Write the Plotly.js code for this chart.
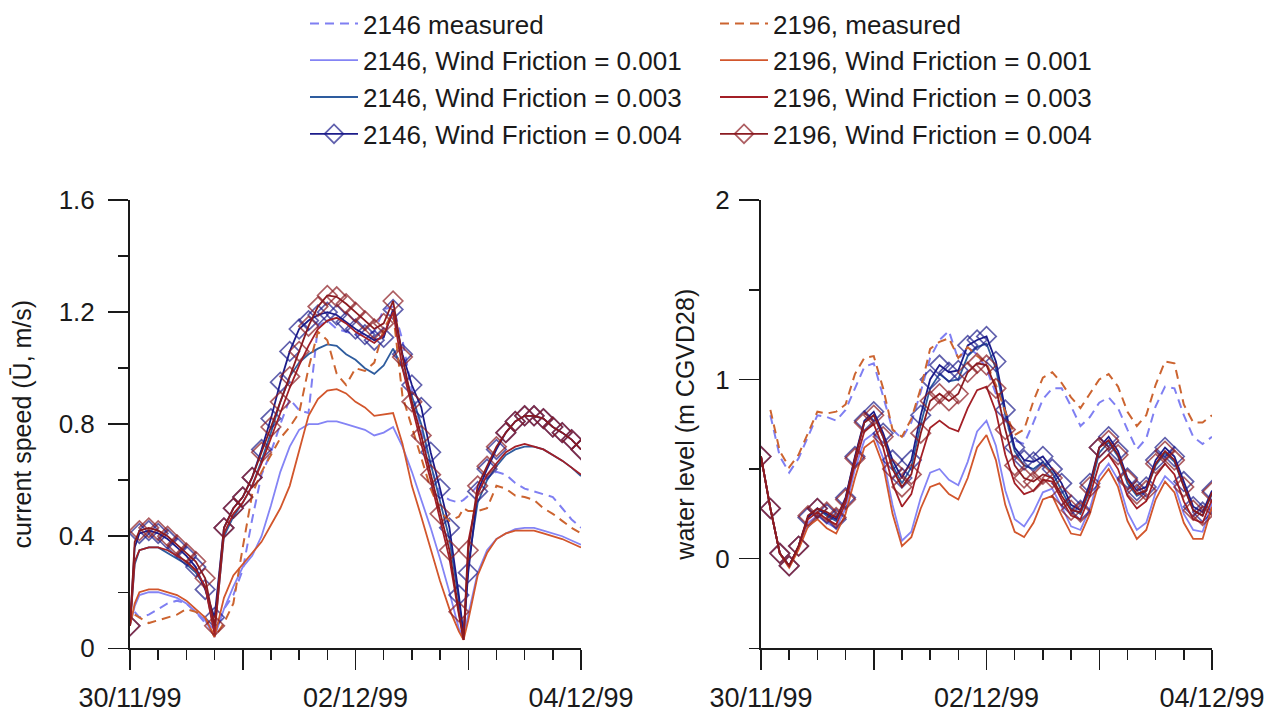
<!DOCTYPE html>
<html>
<head>
<meta charset="utf-8">
<script src="https://cdn.plot.ly/plotly-3.0.1.min.js"></script>
<style>
  html, body { margin: 0; padding: 0; background: #ffffff; }
  #chart { width: 1270px; height: 713px; }
</style>
</head>
<body>
<div id="chart"></div>
<script>
// Time axis in hours from 30/11/99 00:00.
// Left panel samples every 2 h (plus 1 h and 71 h to catch the sharp slack-water dips).
const tSpeed = [0, 1, 2, 4, 6, 8, 10, 12, 14, 16, 18, 20, 22, 24, 26, 28, 30, 32, 34, 36, 38,
  40, 42, 44, 46, 48, 50, 52, 54, 56, 58, 60, 62, 64, 66, 68, 70, 71, 72, 74, 76, 78, 80,
  82, 84, 86, 88, 90, 92, 94, 96];

// Current speed (m/s)
const speed2146Meas = [null, 0.13, 0.11, 0.12, 0.14, 0.16, 0.17, 0.16, 0.13, 0.09, 0.07, 0.14, 0.19,
  0.28, 0.46, 0.62, 0.70, 0.80, 0.89, 0.85, 0.84, 1.15, 1.17, 1.14, 1.13, 1.12, 1.12, 1.13, 1.21,
  1.22, 1.10, 0.92, 0.78, 0.65, 0.55, 0.53, 0.52, 0.53, 0.545, 0.58, 0.61, 0.63, 0.62, 0.59, 0.57,
  0.56, 0.55, 0.54, 0.50, 0.46, 0.43];
const speed2196Meas = [null, 0.12, 0.11, 0.09, 0.10, 0.11, 0.12, 0.14, 0.13, 0.11, 0.04, 0.09, 0.16,
  0.36, 0.55, 0.63, 0.69, 0.75, 0.79, 0.84, 1.00, 1.13, 1.10, 0.98, 0.94, 1.00, 0.99, 1.02, 1.14,
  1.20, 0.90, 0.79, 0.68, 0.57, 0.49, 0.455, 0.47, 0.50, 0.49, 0.49, 0.50, 0.58, 0.57, 0.545, 0.54,
  0.53, 0.50, 0.48, 0.455, 0.43, 0.41];
const speed2146Wf001 = [0.08, 0.15, 0.19, 0.20, 0.20, 0.19, 0.18, 0.16, 0.13, 0.10, 0.04, 0.14, 0.22,
  0.29, 0.33, 0.40, 0.51, 0.63, 0.72, 0.78, 0.80, 0.80, 0.81, 0.81, 0.80, 0.79, 0.78, 0.76, 0.77,
  0.79, 0.72, 0.63, 0.53, 0.43, 0.32, 0.20, 0.07, 0.04, 0.12, 0.27, 0.35, 0.39, 0.41, 0.425, 0.43,
  0.43, 0.42, 0.41, 0.40, 0.385, 0.37];
const speed2146Wf003 = [0.08, 0.30, 0.35, 0.36, 0.36, 0.34, 0.32, 0.30, 0.27, 0.22, 0.06, 0.40, 0.47,
  0.52, 0.58, 0.67, 0.77, 0.88, 0.97, 1.02, 1.05, 1.07, 1.085, 1.08, 1.05, 1.03, 1.00, 0.98, 1.01,
  1.07, 1.00, 0.90, 0.80, 0.66, 0.53, 0.39, 0.17, 0.04, 0.30, 0.52, 0.60, 0.65, 0.69, 0.71, 0.72,
  0.72, 0.71, 0.69, 0.67, 0.645, 0.615];
const speed2146Wf004 = [0.08, 0.36, 0.41, 0.42, 0.41, 0.39, 0.36, 0.33, 0.29, 0.21, 0.11, 0.43, 0.50,
  0.54, 0.61, 0.71, 0.82, 0.95, 1.06, 1.14, 1.17, 1.19, 1.20, 1.19, 1.165, 1.14, 1.12, 1.10, 1.11,
  1.21, 1.05, 0.94, 0.86, 0.70, 0.57, 0.43, 0.19, 0.05, 0.27, 0.56, 0.64, 0.71, 0.77, 0.81, 0.83,
  0.83, 0.82, 0.79, 0.77, 0.745, 0.71];
const speed2196Wf001 = [0.08, 0.16, 0.20, 0.21, 0.21, 0.20, 0.19, 0.17, 0.14, 0.11, 0.04, 0.18, 0.26,
  0.30, 0.34, 0.38, 0.44, 0.50, 0.58, 0.71, 0.83, 0.89, 0.92, 0.925, 0.91, 0.88, 0.86, 0.83, 0.835,
  0.84, 0.73, 0.58, 0.47, 0.35, 0.24, 0.14, 0.06, 0.03, 0.10, 0.26, 0.34, 0.39, 0.41, 0.42, 0.42,
  0.42, 0.41, 0.40, 0.39, 0.375, 0.36];
const speed2196Wf003 = [0.08, 0.31, 0.35, 0.36, 0.36, 0.35, 0.33, 0.31, 0.28, 0.22, 0.05, 0.41, 0.48,
  0.52, 0.58, 0.66, 0.75, 0.84, 0.93, 1.01, 1.08, 1.14, 1.17, 1.18, 1.16, 1.13, 1.11, 1.09, 1.12,
  1.20, 1.00, 0.86, 0.73, 0.60, 0.46, 0.32, 0.12, 0.03, 0.38, 0.55, 0.62, 0.66, 0.70, 0.72, 0.73,
  0.72, 0.71, 0.69, 0.67, 0.645, 0.62];
const speed2196Wf004 = [0.08, 0.38, 0.42, 0.43, 0.42, 0.40, 0.37, 0.34, 0.31, 0.25, 0.08, 0.43, 0.50,
  0.54, 0.61, 0.70, 0.79, 0.88, 0.97, 1.06, 1.15, 1.22, 1.26, 1.255, 1.23, 1.20, 1.17, 1.14, 1.16,
  1.24, 1.04, 0.88, 0.76, 0.62, 0.48, 0.35, 0.13, 0.03, 0.35, 0.58, 0.65, 0.72, 0.77, 0.81, 0.83,
  0.83, 0.82, 0.79, 0.77, 0.745, 0.71];

// Right panel samples every 2 h.
const tLevel = [0, 2, 4, 6, 8, 10, 12, 14, 16, 18, 20, 22, 24, 26, 28, 30, 32, 34, 36, 38, 40, 42,
  44, 46, 48, 50, 52, 54, 56, 58, 60, 62, 64, 66, 68, 70, 72, 74, 76, 78, 80, 82, 84, 86, 88, 90,
  92, 94, 96];

// Water level (m CGVD28)
const level2146Meas = [null, 0.80, 0.57, 0.48, 0.56, 0.68, 0.80, 0.79, 0.77, 0.83, 0.95, 1.07, 1.09,
  0.90, 0.72, 0.67, 0.76, 0.93, 1.12, 1.22, 1.27, 1.11, 1.18, 1.14, 1.06, 0.92, 0.76, 0.66, 0.64,
  0.76, 0.89, 0.95, 0.95, 0.85, 0.74, 0.79, 0.87, 0.90, 0.84, 0.72, 0.61, 0.67, 0.85, 0.96, 0.95,
  0.80, 0.68, 0.64, 0.68];
const level2196Meas = [null, 0.83, 0.60, 0.51, 0.58, 0.70, 0.82, 0.81, 0.82, 0.86, 1.03, 1.12, 1.13,
  0.95, 0.72, 0.68, 0.78, 0.95, 1.17, 1.21, 1.23, 1.12, 1.18, 1.13, 1.09, 0.97, 0.82, 0.69, 0.72,
  0.88, 1.01, 1.04, 0.98, 0.90, 0.84, 0.92, 1.00, 1.03, 0.96, 0.82, 0.74, 0.80, 0.97, 1.10, 1.09,
  0.86, 0.76, 0.76, 0.80];
const level2146Wf001 = [0.57, 0.28, 0.03, -0.05, 0.06, 0.20, 0.24, 0.20, 0.17, 0.28, 0.50, 0.66, 0.70,
  0.56, 0.30, 0.10, 0.15, 0.34, 0.48, 0.50, 0.44, 0.41, 0.54, 0.71, 0.77, 0.63, 0.38, 0.22, 0.18,
  0.26, 0.37, 0.39, 0.29, 0.18, 0.16, 0.28, 0.46, 0.53, 0.44, 0.26, 0.16, 0.20, 0.37, 0.46, 0.41,
  0.25, 0.16, 0.15, 0.31];
const level2146Wf003 = [0.57, 0.28, 0.03, -0.04, 0.07, 0.23, 0.28, 0.24, 0.21, 0.33, 0.56, 0.76, 0.80,
  0.68, 0.52, 0.42, 0.51, 0.75, 0.95, 1.03, 0.99, 1.00, 1.13, 1.18, 1.20, 1.06, 0.80, 0.60, 0.52,
  0.50, 0.54, 0.48, 0.38, 0.28, 0.25, 0.38, 0.59, 0.65, 0.57, 0.42, 0.35, 0.38, 0.52, 0.59, 0.54,
  0.40, 0.27, 0.24, 0.36];
const level2146Wf004 = [0.57, 0.28, 0.03, -0.04, 0.07, 0.23, 0.28, 0.25, 0.22, 0.34, 0.57, 0.77, 0.82,
  0.70, 0.55, 0.45, 0.55, 0.80, 1.00, 1.08, 1.04, 1.05, 1.19, 1.22, 1.24, 1.10, 0.83, 0.62, 0.55,
  0.54, 0.57, 0.50, 0.42, 0.30, 0.27, 0.42, 0.62, 0.68, 0.60, 0.45, 0.38, 0.40, 0.55, 0.62, 0.57,
  0.43, 0.29, 0.26, 0.38];
const level2196Wf001 = [0.57, 0.28, 0.03, -0.05, 0.05, 0.18, 0.22, 0.17, 0.14, 0.25, 0.45, 0.62, 0.66,
  0.52, 0.25, 0.07, 0.12, 0.28, 0.40, 0.42, 0.36, 0.33, 0.45, 0.62, 0.69, 0.55, 0.30, 0.15, 0.12,
  0.20, 0.33, 0.35, 0.24, 0.14, 0.13, 0.25, 0.43, 0.50, 0.40, 0.21, 0.11, 0.16, 0.33, 0.43, 0.37,
  0.20, 0.11, 0.11, 0.29];
const level2196Wf003 = [0.57, 0.28, 0.03, -0.04, 0.07, 0.22, 0.26, 0.22, 0.19, 0.31, 0.53, 0.71, 0.75,
  0.62, 0.42, 0.29, 0.36, 0.56, 0.73, 0.77, 0.73, 0.71, 0.84, 0.94, 0.96, 0.82, 0.58, 0.42, 0.36,
  0.38, 0.44, 0.43, 0.33, 0.24, 0.22, 0.35, 0.53, 0.58, 0.50, 0.35, 0.28, 0.32, 0.46, 0.53, 0.47,
  0.32, 0.22, 0.20, 0.33];
const level2196Wf004 = [0.57, 0.28, 0.03, -0.04, 0.07, 0.24, 0.28, 0.26, 0.23, 0.33, 0.56, 0.76, 0.80,
  0.68, 0.50, 0.40, 0.47, 0.70, 0.88, 0.92, 0.88, 0.92, 1.04, 1.09, 1.08, 0.95, 0.72, 0.52, 0.45,
  0.43, 0.47, 0.45, 0.35, 0.27, 0.26, 0.40, 0.62, 0.66, 0.58, 0.44, 0.36, 0.38, 0.53, 0.60, 0.55,
  0.40, 0.27, 0.24, 0.37];

// Axis ticks
const dayTicks = [0, 24, 48, 72, 96];
const dayLabels = ['30/11/99', '', '02/12/99', '', '04/12/99'];
const speedTicks = [0, 0.4, 0.8, 1.2, 1.6];
const speedLabels = ['0', '0.4', '0.8', '1.2', '1.6'];
const levelTicks = [0, 1, 2];
const levelLabels = ['0', '1', '2'];

// Series names
const names = {
  m2146: '2146 measured',
  w2146a: '2146, Wind Friction = 0.001',
  w2146b: '2146, Wind Friction = 0.003',
  w2146c: '2146, Wind Friction = 0.004',
  m2196: '2196, measured',
  w2196a: '2196, Wind Friction = 0.001',
  w2196b: '2196, Wind Friction = 0.003',
  w2196c: '2196, Wind Friction = 0.004'
};

const FONT = 'Liberation Sans, Arial, Helvetica, sans-serif';
const INK = '#1a1a1a';

const styles = {
  m2146:  { color: '#7f7ff2', dash: '9px,6px', width: 2 },
  w2146a: { color: '#8484f5', width: 1.8 },
  w2146b: { color: '#2e5c9e', width: 1.8 },
  w2146c: { color: '#1c1c8a', width: 1.8, marker: true },
  m2196:  { color: '#cc6430', dash: '9px,6px', width: 2 },
  w2196a: { color: '#d2562c', width: 1.8 },
  w2196b: { color: '#a31f26', width: 1.8 },
  w2196c: { color: '#8a1a20', width: 1.8, marker: true }
};

function series(key, t, y, xa, ya, legendName) {
  const s = styles[key];
  const tr = {
    type: 'scatter',
    x: t,
    y: y,
    xaxis: xa,
    yaxis: ya,
    name: names[key],
    legendgroup: key,
    legend: legendName,
    showlegend: xa === 'x',
    mode: s.marker ? 'lines+markers' : 'lines',
    line: { color: s.color, width: s.width, dash: s.dash || 'solid' },
    connectgaps: false,
    hoverinfo: 'skip'
  };
  if (s.marker) {
    // markers only on the 2-hourly output steps
    tr.marker = {
      symbol: 'diamond-open',
      size: t.map(h => (h % 2 === 0 ? 15 : 0)),
      color: s.color,
      line: { color: s.color, width: 1.7 }
    };
  }
  return tr;
}

const data = [];
const blue = ['m2146', 'w2146a', 'w2146b', 'w2146c'];
const red = ['m2196', 'w2196a', 'w2196b', 'w2196c'];
const speedSets = {
  m2146: speed2146Meas, w2146a: speed2146Wf001, w2146b: speed2146Wf003, w2146c: speed2146Wf004,
  m2196: speed2196Meas, w2196a: speed2196Wf001, w2196b: speed2196Wf003, w2196c: speed2196Wf004
};
const levelSets = {
  m2146: level2146Meas, w2146a: level2146Wf001, w2146b: level2146Wf003, w2146c: level2146Wf004,
  m2196: level2196Meas, w2196a: level2196Wf001, w2196b: level2196Wf003, w2196c: level2196Wf004
};
blue.forEach(k => data.push(series(k, tSpeed, speedSets[k], 'x', 'y', 'legend')));
red.forEach(k => data.push(series(k, tSpeed, speedSets[k], 'x', 'y', 'legend2')));
blue.forEach(k => data.push(series(k, tLevel, levelSets[k], 'x2', 'y2', 'legend')));
red.forEach(k => data.push(series(k, tLevel, levelSets[k], 'x2', 'y2', 'legend2')));

const W = 1270, H = 713;
const px = v => v / W;
const py = v => (H - v) / H;

function timeAxis(domain, anchor) {
  return {
    domain: domain,
    anchor: anchor,
    range: [0, 96],
    showgrid: false,
    zeroline: false,
    showline: true,
    linecolor: INK,
    linewidth: 2,
    ticks: 'outside',
    tickmode: 'array',
    tickvals: dayTicks,
    ticktext: dayLabels,
    ticklen: 20,
    tickwidth: 1.5,
    tickcolor: INK,
    ticklabelstandoff: 4,
    tickfont: { family: FONT, size: 27, color: INK },
    minor: { tickmode: 'linear', tick0: 0, dtick: 6, ticks: 'outside', ticklen: 10, tickwidth: 1.5, tickcolor: INK },
    fixedrange: true
  };
}

function valueAxis(anchor, range, vals, labels, minorStep, title, standoff, titleStandoff) {
  return {
    domain: [py(648), py(198)],
    anchor: anchor,
    range: range,
    showgrid: false,
    zeroline: false,
    showline: true,
    linecolor: INK,
    linewidth: 2,
    ticks: 'outside',
    tickmode: 'array',
    tickvals: vals,
    ticktext: labels,
    ticklen: 20,
    tickwidth: 1.5,
    tickcolor: INK,
    ticklabelstandoff: standoff,
    tickfont: { family: FONT, size: 26, color: INK },
    minor: { tickmode: 'linear', tick0: range[0], dtick: minorStep, ticks: 'outside', ticklen: 10, tickwidth: 1.5, tickcolor: INK },
    title: { text: title, font: { family: FONT, size: 25, color: INK }, standoff: titleStandoff },
    fixedrange: true
  };
}

const legendBase = {
  yanchor: 'top',
  xanchor: 'left',
  bgcolor: 'rgba(0,0,0,0)',
  borderwidth: 0,
  font: { family: FONT, size: 26, color: INK },
  itemwidth: 48,
  traceorder: 'grouped',
  tracegroupgap: 0,
  itemclick: false,
  itemdoubleclick: false
};

const layout = {
  width: W,
  height: H,
  margin: { l: 0, r: 0, t: 0, b: 0 },
  paper_bgcolor: '#ffffff',
  plot_bgcolor: '#ffffff',
  showlegend: true,
  font: { family: FONT, color: INK },
  xaxis: timeAxis([px(130), px(581)], 'y'),
  yaxis: valueAxis('x', [0, 1.6], speedTicks, speedLabels, 0.2, 'current speed (U\u0304, m/s)', 8, 20),
  xaxis2: timeAxis([px(761), px(1212)], 'y2'),
  yaxis2: valueAxis('x2', [-0.5, 2], levelTicks, levelLabels, 0.5, 'water level (m CGVD28)', 4, 14),
  legend: Object.assign({}, legendBase, { x: px(305), y: py(-3) }),
  legend2: Object.assign({}, legendBase, { x: px(715), y: py(-3) })
};

Plotly.newPlot('chart', data, layout, { staticPlot: true, displayModeBar: false });
</script>
</body>
</html>
